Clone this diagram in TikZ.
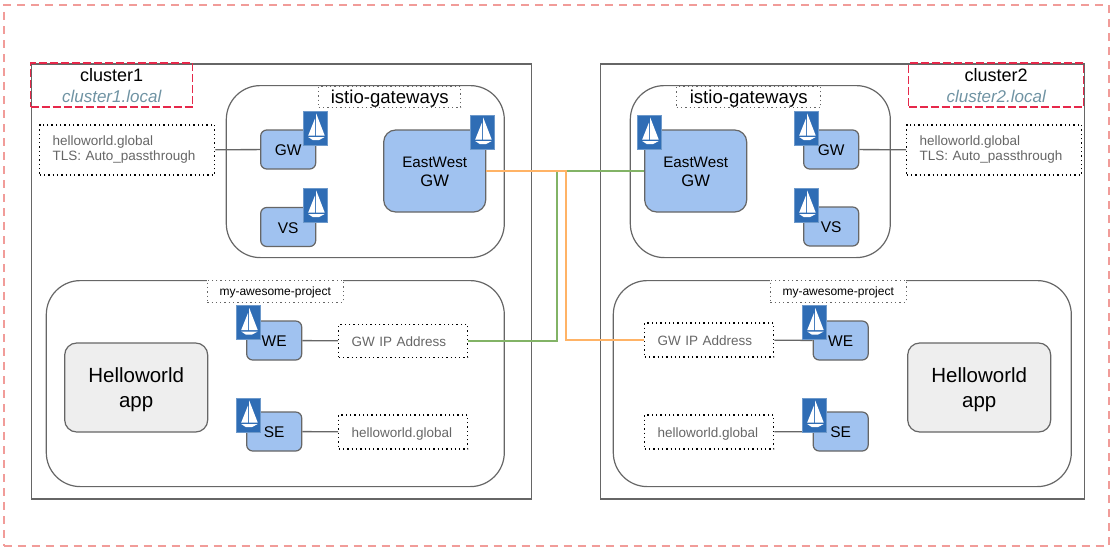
\documentclass[tikz,border=0pt]{standalone}
\usepackage{fontspec}
\setmainfont{Liberation Sans}

\definecolor{linegrey}{HTML}{666666}
\definecolor{svcblue}{HTML}{A0C2F0}
\definecolor{appgrey}{HTML}{EEEEEE}
\definecolor{iconblue}{HTML}{2F6DB5}
\definecolor{outerpink}{HTML}{F19C99}
\definecolor{labelred}{HTML}{E6284A}
\definecolor{domaingrey}{HTML}{6F93A3}
\definecolor{linkgreen}{HTML}{82B366}
\definecolor{linkorange}{HTML}{FFB366}

\newcommand{\ewtext}{{\fontsize{15.2}{19}\selectfont\rule{0pt}{13pt}EastWest}\\GW}
\newcommand{\apptext}{\rule{0pt}{20pt}Helloworld\\app}

\tikzset{
  fsize/.style={font=\fontsize{#1}{#1}\selectfont},
  area/.style={draw=linegrey, line width=1.2pt, rounded corners=34pt, anchor=north west, inner sep=0pt},
  clusterbox/.style={draw=linegrey, line width=1.6pt, anchor=north west, inner sep=0pt},
  clusterlabel/.style={draw=labelred, line width=1.3pt, dash pattern=on 8pt off 3pt, minimum height=44pt, inner sep=0pt},
  clustertext/.style={fsize=18, text height=13pt, text depth=0pt, inner sep=0pt},
  svc/.style={draw=linegrey, line width=1.2pt, fill=svcblue, rounded corners=6pt, minimum width=55pt, minimum height=39pt, inner sep=0pt, fsize=15.5, text height=12pt, text depth=0pt},
  ewgw/.style={draw=linegrey, line width=1.2pt, fill=svcblue, rounded corners=12pt, minimum width=102pt, minimum height=82pt, inner sep=0pt, align=center, font=\fontsize{16.6}{19}\selectfont},
  app/.style={draw=linegrey, line width=1.2pt, fill=appgrey, rounded corners=12pt, minimum width=143pt, minimum height=89pt, inner sep=0pt, align=center, font=\fontsize{20.5}{25}\selectfont},
  note/.style={draw=black, line width=1.1pt, dash pattern=on 1.3pt off 3pt, text=linegrey, inner ysep=0pt, inner xsep=13pt, fsize=13.5, align=left},
  ipnote/.style={note, text width=103pt, text height=12pt, text depth=2pt},
  tag/.style={draw=linegrey, fill=white, line width=1pt, dash pattern=on 1.3pt off 3pt, inner sep=0pt},
  link/.style={line width=1.3pt},
  boat/.pic={
    \node[fill=iconblue, draw=iconblue!70, line width=0.6pt, minimum width=24pt, minimum height=34pt, inner sep=0pt] (-box) {};
    \fill[white] (0.5,-14.5) -- (9,7.5) -- (0.5,7.5) -- cycle;
    \fill[white] (-0.7,-9.5) -- (-0.7,7.5) -- (-7.5,7.5) -- cycle;
    \fill[white] (-7.5,9) -- (9,9) -- (3.5,12) -- (-3,12) -- cycle;
  }
}

\begin{document}
\begin{tikzpicture}[x=1pt, y=-1pt]
  \useasboundingbox (0.3,0) rectangle ++(1112,549);
  \node[draw=outerpink, line width=2pt, dash pattern=on 8pt off 6pt, anchor=north west, inner sep=0pt, minimum width=1105pt, minimum height=541pt] (outer) at (3,4) {};

  % clusters
  \node[clusterbox, minimum width=500pt, minimum height=435pt] (cluster1) at (31,63) {};
  \node[clusterbox, minimum width=484pt, minimum height=435pt] (cluster2) at (600,63) {};
  \node[clusterlabel, minimum width=162pt] (label1) at (112,85) {};
  \node[clusterlabel, minimum width=175pt] (label2) at (996.5,85) {};
  \node[clustertext] (name1) at (112,75) {cluster1};
  \node[clustertext, fsize=17, text=domaingrey] (domain1) at (112,96) {\itshape cluster1.local};
  \node[clustertext] (name2) at (996.5,75) {cluster2};
  \node[clustertext, fsize=17, text=domaingrey] (domain2) at (996.5,96) {\itshape cluster2.local};

  % namespaces
  \node[area, minimum width=278pt, minimum height=172pt] (istio1) at (226,85) {};
  \node[area, minimum width=260pt, minimum height=172pt] (istio2) at (630,85) {};
  \node[area, minimum width=458pt, minimum height=206pt] (project1) at (46,280) {};
  \node[area, minimum width=458pt, minimum height=206pt] (project2) at (613,280) {};
  \node[tag, minimum width=142pt, minimum height=21pt, fsize=18.6, text height=15pt, text depth=3pt] (istiotag1) at (390,97) {istio-gateways};
  \node[tag, minimum width=144pt, minimum height=21pt, fsize=18.6, text height=15pt, text depth=3pt] (istiotag2) at (749,97) {istio-gateways};
  \node[tag, minimum width=136pt, minimum height=22pt, fsize=12, text height=10.5pt, text depth=2pt] (projtag1) at (275.5,291) {my-awesome-project};
  \node[tag, minimum width=136pt, minimum height=22pt, fsize=12, text height=10.5pt, text depth=2pt] (projtag2) at (838.5,291) {my-awesome-project};

  % services
  \node[svc] (gw1) at (288.5,149.5) {GW};
  \node[svc] (vs1) at (288.5,227) {VS};
  \node[ewgw] (east1) at (435,171) {\ewtext};
  \node[svc] (gw2) at (831.5,149.5) {GW};
  \node[svc] (vs2) at (831.5,226.5) {VS};
  \node[ewgw] (east2) at (696,171) {\ewtext};
  \node[svc] (we1) at (274.5,340.5) {WE};
  \node[svc] (se1) at (274.5,431.5) {SE};
  \node[svc] (we2) at (841,340.5) {WE};
  \node[svc] (se2) at (841,431.5) {SE};
  \node[app] (app1) at (136.5,387.5) {\apptext};
  \node[app] (app2) at (979.5,387.5) {\apptext};

  % notes
  \node[note, text width=149pt, minimum height=50pt] (tls1) at (127.5,150) {helloworld.global\\[1.5pt]TLS: Auto\_passthrough};
  \node[note, text width=149pt, minimum height=50pt] (tls2) at (994.5,150) {helloworld.global\\[1.5pt]TLS: Auto\_passthrough};
  \node[ipnote, minimum height=33pt] (ip1) at (403.5,341) {GW IP Address};
  \node[ipnote, minimum height=34pt] (host1) at (403.5,432) {helloworld.global};
  \node[ipnote, minimum height=34pt] (ip2) at (709.5,340) {GW IP Address};
  \node[ipnote, minimum height=34pt] (host2) at (709.5,432) {helloworld.global};

  % connectors
  \draw[draw=linegrey, link] (tls1) -- (gw1);
  \draw[draw=linegrey, link] (gw2) -- (tls2);
  \draw[draw=linegrey, link] (we1) -- (ip1);
  \draw[draw=linegrey, link] (se1) -- (host1);
  \draw[draw=linegrey, link] (ip2) -- (we2);
  \draw[draw=linegrey, link] (host2) -- (se2);
  \coordinate (greenx) at (557.3,171);
  \coordinate (orangex) at (566.3,171);
  \draw[draw=linkgreen, link] (east2.west) -- (greenx) |- (ip1.east);
  \draw[draw=linkorange, link] (east1.east) -- (orangex) |- (ip2.west);

  % sail icons
  \foreach \name/\px/\py in {gwboat1/316/128, vsboat1/316/205, eastboat1/483/132,
    gwboat2/807/128, vsboat2/807/205, eastboat2/650/132,
    weboat1/249/322.5, seboat1/249/415, weboat2/815/322.5, seboat2/815/415}
    \pic (\name) at (\px,\py) {boat};
\end{tikzpicture}
\end{document}
